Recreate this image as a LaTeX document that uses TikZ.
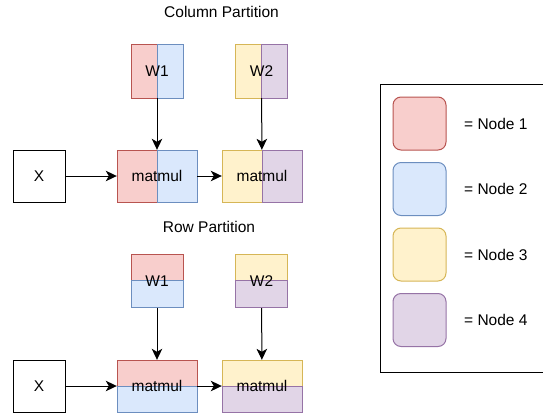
\documentclass[tikz,border=0pt]{standalone}
\usepackage{fontspec}
\setmainfont{Liberation Sans}
\usepackage{tikz}
\usetikzlibrary{arrows.meta,positioning}

\definecolor{nodeAfill}{HTML}{F8CECC}
\definecolor{nodeAline}{HTML}{B85450}
\definecolor{nodeBfill}{HTML}{DAE8FC}
\definecolor{nodeBline}{HTML}{6C8EBF}
\definecolor{nodeCfill}{HTML}{FFF2CC}
\definecolor{nodeCline}{HTML}{D6B656}
\definecolor{nodeDfill}{HTML}{E1D5E7}
\definecolor{nodeDline}{HTML}{9673A6}

\begin{document}
\begin{tikzpicture}[
  x=1pt, y=-1pt,
  >={Stealth[length=11pt,width=10.5pt,inset=3pt]},
  font=\fontsize{15.5}{18}\selectfont,
  part/.style={draw, line width=1pt, inner sep=0pt},
  redpart/.style={part, fill=nodeAfill, draw=nodeAline},
  bluepart/.style={part, fill=nodeBfill, draw=nodeBline},
  yelpart/.style={part, fill=nodeCfill, draw=nodeCline},
  purpart/.style={part, fill=nodeDfill, draw=nodeDline},
  wcol/.style={minimum width=26pt, minimum height=54pt},
  wrow/.style={minimum width=52pt, minimum height=27pt},
  mcol/.style={minimum width=40pt, minimum height=52pt},
  mrow/.style={minimum width=80pt, minimum height=26pt},
  wlabel/.style={inner sep=0pt, minimum width=52pt, minimum height=54pt},
  mlabel/.style={inner sep=0pt, minimum width=80pt, minimum height=52pt},
  inbox/.style={draw=black, line width=1pt, minimum width=52pt, minimum height=52pt, inner sep=0pt},
  swatch/.style={part, rounded corners=8pt, minimum width=53pt, minimum height=53pt},
  arrow/.style={->, line width=1pt, draw=black}
]
  \useasboundingbox (0,0) rectangle (543,415);

  % Column partition
  \node (ctitle) at (221.5,12) {Column Partition};

  \node[redpart, wcol] (cw1a) at (144,71) {};
  \node[bluepart, wcol] (cw1b) at (170,71) {};
  \node[wlabel] (cw1) at (157,71) {W1};

  \node[yelpart, wcol] (cw2a) at (248.5,71) {};
  \node[purpart, wcol] (cw2b) at (274.5,71) {};
  \node[wlabel] (cw2) at (261.5,71) {W2};

  \node[inbox] (cx) at (39,176) {X};

  \node[redpart, mcol] (cm1a) at (137,176) {};
  \node[bluepart, mcol] (cm1b) at (177,176) {};
  \node[mlabel] (cm1) at (157,176) {matmul};

  \node[yelpart, mcol] (cm2a) at (242,176) {};
  \node[purpart, mcol] (cm2b) at (282,176) {};
  \node[mlabel] (cm2) at (262,176) {matmul};

  \draw[arrow] (cx) -- (cm1);
  \draw[arrow] (cm1) -- (cm2);
  \draw[arrow] (cw1) -- (cm1);
  \draw[arrow] (cw2) -- (cm2);

  % Row partition
  \node (rtitle) at (209,227) {Row Partition};

  \node[redpart, wrow] (rw1a) at (157,267.5) {};
  \node[bluepart, wrow] (rw1b) at (157,294) {};
  \node[wlabel] (rw1) at (157,281) {W1};

  \node[yelpart, wrow] (rw2a) at (261.5,267.5) {};
  \node[purpart, wrow] (rw2b) at (261.5,294) {};
  \node[wlabel] (rw2) at (261.5,281) {W2};

  \node[inbox] (rx) at (39,386) {X};

  \node[redpart, mrow] (rm1a) at (157,373) {};
  \node[bluepart, mrow] (rm1b) at (157,399) {};
  \node[mlabel] (rm1) at (157,386) {matmul};

  \node[yelpart, mrow] (rm2a) at (262,373) {};
  \node[purpart, mrow] (rm2b) at (262,399) {};
  \node[mlabel] (rm2) at (262,386) {matmul};

  \draw[arrow] (rx) -- (rm1);
  \draw[arrow] (rm1) -- (rm2);
  \draw[arrow] (rw1) -- (rm1);
  \draw[arrow] (rw2) -- (rm2);

  % Legend
  \node[draw=black, line width=1pt, minimum width=166pt, minimum height=288pt] (legend) at (463,228) {};

  \node[swatch, redpart] (key1) at (419.5,123.5) {};
  \node[swatch, bluepart] (key2) at (419.5,189) {};
  \node[swatch, yelpart] (key3) at (419.5,254.5) {};
  \node[swatch, purpart] (key4) at (419.5,320) {};

  \node[anchor=west, inner sep=0pt] (txt1) at (464,123.5) {= Node 1};
  \node[anchor=west, inner sep=0pt] (txt2) at (464,189) {= Node 2};
  \node[anchor=west, inner sep=0pt] (txt3) at (464,254.5) {= Node 3};
  \node[anchor=west, inner sep=0pt] (txt4) at (464,320) {= Node 4};

\end{tikzpicture}
\end{document}
